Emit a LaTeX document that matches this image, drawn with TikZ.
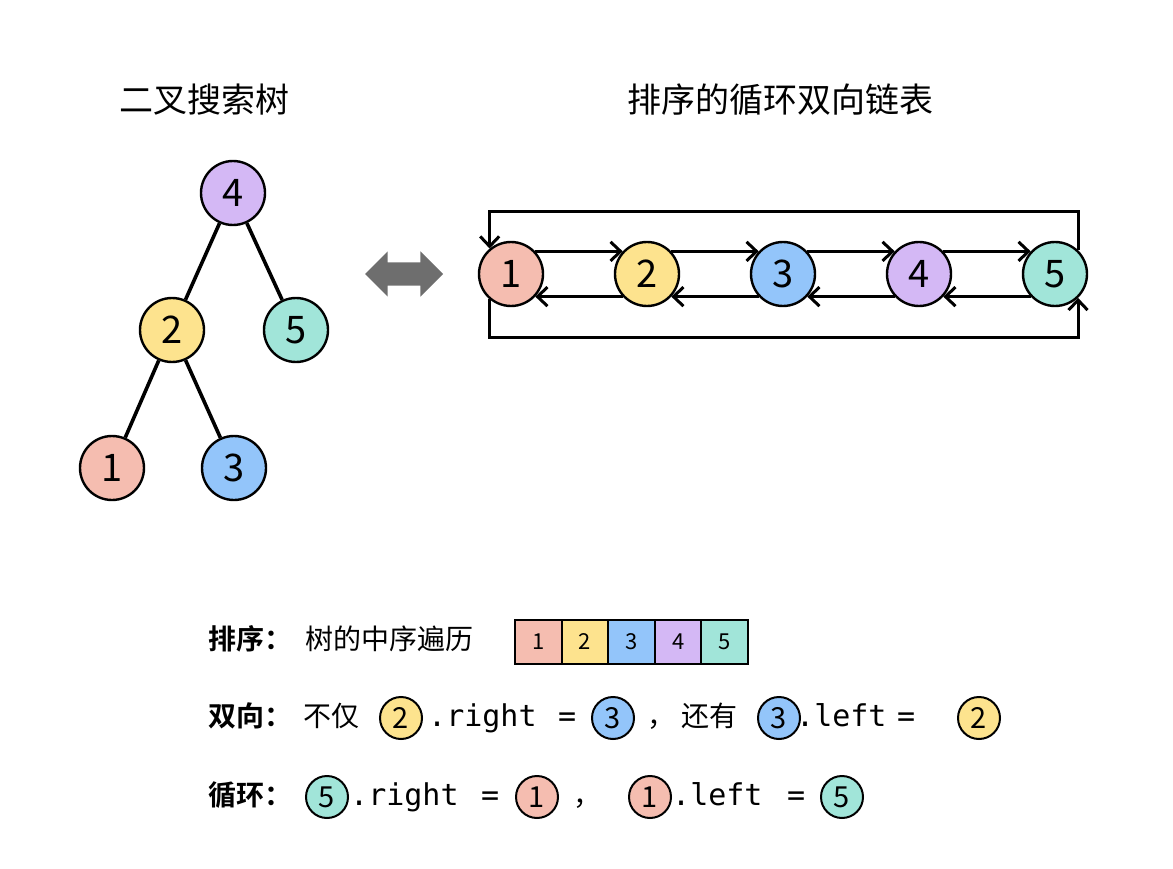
\documentclass[tikz,border=0pt]{standalone}
\usepackage{fontspec}
\setmainfont{Noto Sans CJK SC}[BoldFont={Noto Sans CJK SC Bold}]
\setmonofont{DejaVu Sans Mono}
\usetikzlibrary{arrows.meta,calc,positioning,shapes.arrows}
\definecolor{keyone}{HTML}{F5BDB0}
\definecolor{keytwo}{HTML}{FDE38E}
\definecolor{keythree}{HTML}{93C5FA}
\definecolor{keyfour}{HTML}{D4B8F5}
\definecolor{keyfive}{HTML}{A1E5D9}
\definecolor{swapgray}{HTML}{6E6E6E}

\begin{document}
\begin{tikzpicture}[x=1pt,y=-1pt,
        keynode/.style={circle,draw=black,line width=2.4pt,minimum size=64pt,
          inner sep=0pt,font=\fontsize{38}{38}\selectfont},
        minikey/.style={circle,draw=black,line width=2pt,minimum size=42pt,
          inner sep=0pt,font=\fontsize{29}{29}\selectfont},
        cell/.style={draw=black,line width=2pt,minimum width=46.6pt,
          minimum height=44pt,inner sep=0pt,font=\fontsize{22}{22}\selectfont},
        branch/.style={line width=3.6pt},
        link/.style={line width=3pt,-{Straight Barb[length=10pt,width=19pt]}},
        heading/.style={font=\fontsize{34}{34}\selectfont},
        words/.style={anchor=west,inner sep=0pt,text height=22pt,text depth=6pt,
          font=\fontsize{28}{28}\selectfont},
        mono/.style={words,font=\fontsize{30}{30}\selectfont\ttfamily}]
        \useasboundingbox (0,0) rectangle (1173,869);

        % Headings.
        \node[heading] (treetitle) at (204,100) {二叉搜索树};
        \node[heading] (listtitle) at (780,100) {排序的循环双向链表};

        % The search tree.
        \node[keynode,fill=keyfour]  (t4) at (233,193) {4};
        \node[keynode,fill=keytwo]   (t2) at (172,330) {2};
        \node[keynode,fill=keyfive]  (t5) at (296,330) {5};
        \node[keynode,fill=keyone]   (t1) at (112,468) {1};
        \node[keynode,fill=keythree] (t3) at (234,468) {3};
        \draw[branch] (t4) -- (t2);
        \draw[branch] (t4) -- (t5);
        \draw[branch] (t2) -- (t1);
        \draw[branch] (t2) -- (t3);

        % Two-way arrow between the two views.
        \node[double arrow,fill=swapgray,inner xsep=0pt,inner ysep=11.5pt,
          minimum height=78pt,double arrow head extend=11pt] (swap) at (404,274) {};

        % Ring of the linked list.
        \coordinate (ringtop) at (0,212);
        \coordinate (ringbot) at (0,337);
        \foreach \k/\c [count=\i] in {1/keyone,2/keytwo,3/keythree,4/keyfour,5/keyfive}
          \node[keynode,fill=\c] (l\k) at (511+136*\i-136,274) {\k};
        \draw[link] (l5.46) -- (l5.46 |- ringtop) -| (l1.130);
        \draw[link] (l1.-130) -- (l1.-130 |- ringbot) -| (l5.-46);
        \foreach \a/\b in {1/2,2/3,3/4,4/5} {
          \draw[link] (l\a.43) -- (l\b.137);
          \draw[link] (l\b.-137) -- (l\a.-43);
        }

        % Row: sorted.
        \node[words,font=\fontsize{28}{28}\selectfont\bfseries] (sortlbl) at (208,641) {排序：};
        \node[words] (sorttxt) at (305,641) {树的中序遍历};
        \foreach \k/\c [count=\i] in {1/keyone,2/keytwo,3/keythree,4/keyfour,5/keyfive}
          \node[cell,fill=\c] (c\k) at (538.3+46.6*\i-46.6,642) {\k};

        % Row: two-way.
        \node[words,font=\fontsize{28}{28}\selectfont\bfseries] (duallbl) at (208,718) {双向：};
        \node[words] (dualtxt) at (303,718) {不仅};
        \node[minikey,fill=keytwo] (da) at (401,718) {2};
        \node[mono] (dright) at (428,718) {.right};
        \node[mono] (deqa) at (558,718) {=};
        \node[minikey,fill=keythree] (db) at (613,718) {3};
        \node[words] (dcomma) at (647,718) {，};
        \node[words] (dalso) at (681,718) {还有};
        \node[minikey,fill=keythree] (dc) at (779,718) {3};
        \node[mono] (dleft) at (796,718) {.left};
        \node[mono] (deqb) at (897,718) {=};
        \node[minikey,fill=keytwo] (dd) at (979,718) {2};

        % Row: circular.
        \node[words,font=\fontsize{28}{28}\selectfont\bfseries] (ringlbl) at (208,797) {循环：};
        \node[minikey,fill=keyfive] (ra) at (327,797) {5};
        \node[mono] (rright) at (350,797) {.right};
        \node[mono] (reqa) at (481,797) {=};
        \node[minikey,fill=keyone] (rb) at (537,797) {1};
        \node[words] (rcomma) at (573,797) {，};
        \node[minikey,fill=keyone] (rc) at (650,797) {1};
        \node[mono] (rleft) at (672,797) {.left};
        \node[mono] (reqb) at (787,797) {=};
        \node[minikey,fill=keyfive] (rd) at (842,797) {5};
      \end{tikzpicture}
\end{document}
